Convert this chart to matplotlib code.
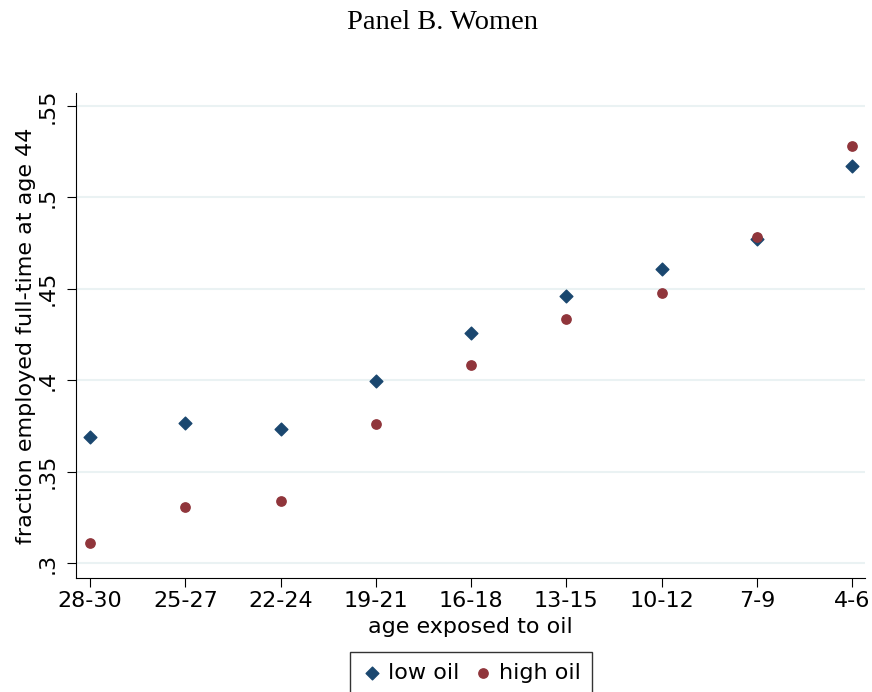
import matplotlib
matplotlib.use("Agg")
import matplotlib.pyplot as plt

# age groups exposed to oil and fraction employed full-time at 44
groups = ['28-30', '25-27', '22-24', '19-21', '16-18', '13-15', '10-12', '7-9', '4-6']
low_oil = [0.3689, 0.3766, 0.3733, 0.3996, 0.4258, 0.4461, 0.4608, 0.4773, 0.5172]
high_oil = [0.3109, 0.3306, 0.3339, 0.3760, 0.4083, 0.4335, 0.4477, 0.4784, 0.5281]
yticks = [0.3, 0.35, 0.4, 0.45, 0.5, 0.55]
ytick_labels = ['.3', '.35', '.4', '.45', '.5', '.55']

navy = '#1a476f'
maroon = '#90353b'

fig = plt.figure(figsize=(8.72, 6.92), dpi=100)
ax = fig.add_axes([0.0872, 0.1647, 0.905, 0.7009])

x = range(len(groups))
ax.scatter(x, low_oil, marker='D', s=42, color=navy, label='low oil', zorder=3)
ax.scatter(x, high_oil, marker='o', s=45, color=maroon, label='high oil', zorder=3)

ax.set_xlim(-0.147, 8.136)
ax.set_ylim(0.2918, 0.5571)
ax.set_xticks(list(x))
ax.set_xticklabels(groups, fontsize=16)
ax.set_yticks(yticks)
ax.set_yticklabels(ytick_labels, fontsize=16, rotation=90, va='center')
ax.tick_params(axis='x', length=6.5, color='black', pad=2.5)
ax.tick_params(axis='y', length=6.5, color='black', pad=7)

ax.grid(axis='y', color='#eaf2f3', linewidth=1.5, zorder=0)
ax.set_axisbelow(True)
for s in ['top', 'right']:
    ax.spines[s].set_visible(False)

ax.set_xlabel('age exposed to oil', fontsize=16, labelpad=5)
ax.set_ylabel('fraction employed full-time at age 44', fontsize=16, labelpad=1)

fig.text(0.507, 0.968, 'Panel B. Women', ha='center', va='center',
         fontsize=20.5, family='Liberation Serif')

leg = fig.legend(loc='upper center', bbox_to_anchor=(0.54, 0.058), ncol=2,
                 fontsize=16, frameon=True, fancybox=False, edgecolor='black',
                 handletextpad=0.2, columnspacing=0.6, borderpad=0.5,
                 handlelength=1.0, borderaxespad=0)
leg.get_frame().set_linewidth(1.0)

fig.savefig('out.png', dpi=100)
